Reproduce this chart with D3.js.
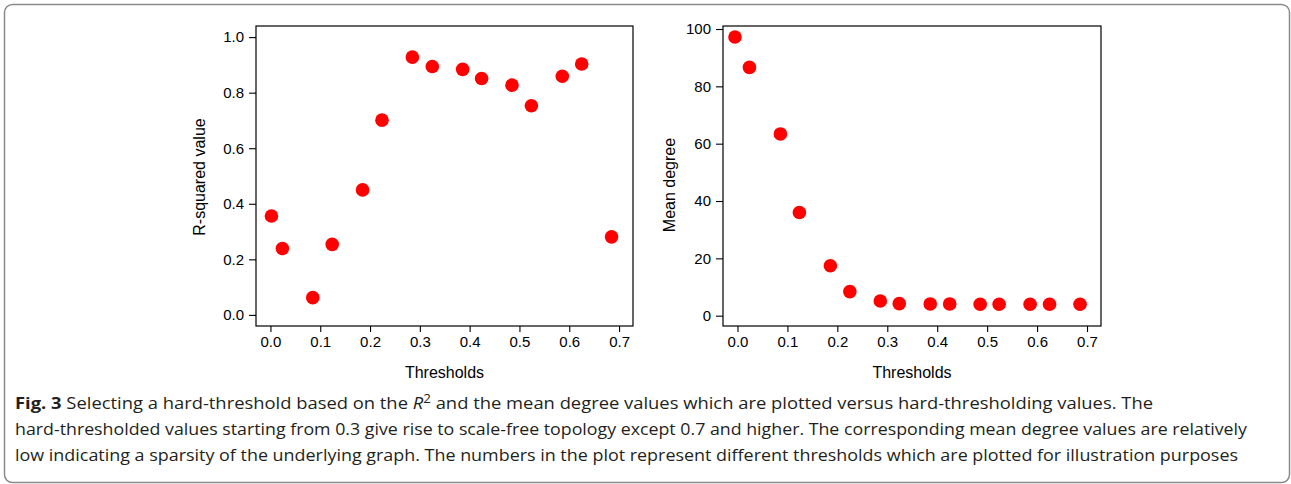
<!DOCTYPE html>
<html>
<head>
<meta charset="utf-8">
<script src="https://cdn.jsdelivr.net/npm/d3@7"></script>
<style>
  body { margin: 0; background: #fff; }
  svg { display: block; }
  .tick text { font-family: "Liberation Sans", Arial, sans-serif; font-size: 15px; fill: #000; }
  .axisTitle { font-family: "Liberation Sans", Arial, sans-serif; font-size: 16px; fill: #000; }
  .caption { font-family: "Open Sans", "Noto Sans", sans-serif; font-size: 16.5px; fill: #231f20; }
</style>
</head>
<body>
<svg id="fig"></svg>
<script>
// thresholds (x)
var leftThresholds = [0.002, 0.024, 0.085, 0.124, 0.185, 0.224, 0.285, 0.325, 0.386, 0.424, 0.485, 0.524, 0.586, 0.625, 0.685];
var rightThresholds = [-0.005, 0.024, 0.086, 0.124, 0.186, 0.225, 0.286, 0.324, 0.386, 0.425, 0.486, 0.524, 0.586, 0.625, 0.686];

// R-squared values
var rSquared = [0.356, 0.239, 0.062, 0.254, 0.450, 0.701, 0.928, 0.894, 0.884, 0.851, 0.827, 0.753, 0.859, 0.903, 0.281];

// mean degree values
var meanDegree = [97.2, 86.6, 63.4, 36.0, 17.4, 8.4, 5.1, 4.2, 4.1, 4.1, 4.0, 4.0, 4.0, 4.0, 4.0];

var xTicks = [0, 0.1, 0.2, 0.3, 0.4, 0.5, 0.6, 0.7];
var rTicks = [0, 0.2, 0.4, 0.6, 0.8, 1.0];
var degreeTicks = [0, 20, 40, 60, 80, 100];

var captionLines = [
  "hard-thresholded values starting from 0.3 give rise to scale-free topology except 0.7 and higher. The corresponding mean degree values are relatively",
  "low indicating a sparsity of the underlying graph. The numbers in the plot represent different thresholds which are plotted for illustration purposes"
];

var svgWidth = 1291;
var svgHeight = 484;

var svg = d3.select("#fig")
  .attr("width", svgWidth)
  .attr("height", svgHeight);

// outer rounded frame
svg.append("rect")
  .attr("x", 4.5).attr("y", 4.5)
  .attr("width", 1285).attr("height", 478)
  .attr("rx", 8).attr("ry", 8)
  .attr("fill", "none")
  .attr("stroke", "#8a8a8a")
  .attr("stroke-width", 1.5);

function drawPanel(opts) {
  var g = svg.append("g");

  var x = d3.scaleLinear().domain([-0.029, 0.728]).range([opts.left, opts.right]);
  var y = d3.scaleLinear().domain(opts.yDomain).range([opts.bottom, opts.top]);

  // box
  g.append("rect")
    .attr("x", opts.left).attr("y", opts.top)
    .attr("width", opts.right - opts.left)
    .attr("height", opts.bottom - opts.top)
    .attr("fill", "none")
    .attr("stroke", "#000")
    .attr("stroke-width", 1.2);

  var bottomAxis = d3.axisBottom(x).tickValues(xTicks).tickFormat(d3.format(".1f"))
    .tickSizeInner(6).tickSizeOuter(0).tickPadding(4);
  var leftAxis = d3.axisLeft(y).tickValues(opts.yTicks).tickFormat(opts.yFormat)
    .tickSizeInner(7).tickSizeOuter(0).tickPadding(5);

  var xa = g.append("g")
    .attr("transform", `translate(0, ${opts.bottom})`)
    .call(bottomAxis);
  xa.select(".domain").remove();

  var ya = g.append("g")
    .attr("transform", `translate(${opts.left}, 0)`)
    .call(leftAxis);
  ya.select(".domain").remove();

  g.selectAll(".tick line").attr("stroke", "#000").attr("stroke-width", 1.1);

  // points
  g.selectAll("circle.pt")
    .data(opts.yValues)
    .enter()
    .append("circle")
    .attr("class", "pt")
    .attr("cx", (d, i) => x(opts.xValues[i]))
    .attr("cy", d => y(d))
    .attr("r", 6.8)
    .attr("fill", "#ff0000");

  // axis titles
  g.append("text")
    .attr("class", "axisTitle")
    .attr("text-anchor", "middle")
    .attr("x", (opts.left + opts.right) / 2)
    .attr("y", 378)
    .text("Thresholds");

  g.append("text")
    .attr("class", "axisTitle")
    .attr("text-anchor", "middle")
    .attr("transform", `translate(${opts.titleX}, ${opts.titleY}) rotate(-90)`)
    .text(opts.yTitle);
}

drawPanel({
  left: 256, right: 633, top: 26, bottom: 326,
  yDomain: [-0.04, 1.04],
  yTicks: rTicks,
  yFormat: d3.format(".1f"),
  xValues: leftThresholds,
  yValues: rSquared,
  yTitle: "R-squared value",
  titleX: 205, titleY: 177
});

drawPanel({
  left: 723, right: 1101, top: 26, bottom: 326,
  yDomain: [-3.6, 101.05],
  yTicks: degreeTicks,
  yFormat: d3.format("d"),
  xValues: rightThresholds,
  yValues: meanDegree,
  yTitle: "Mean degree",
  titleX: 675, titleY: 185
});

// caption
var cap1 = svg.append("text")
  .attr("class", "caption")
  .attr("x", 15).attr("y", 408.5)
  .attr("textLength", 1138)
  .attr("lengthAdjust", "spacingAndGlyphs");
cap1.append("tspan").attr("font-weight", "bold").text("Fig. 3");
cap1.append("tspan").text(" Selecting a hard-threshold based on the ");
cap1.append("tspan").attr("font-style", "italic").text("R");
cap1.append("tspan").attr("dy", -6).attr("font-size", "12px").text("2");
cap1.append("tspan").attr("dy", 6).text(" and the mean degree values which are plotted versus hard-thresholding values. The");

var capWidths = [1232, 1223];
svg.selectAll("text.capLine")
  .data(captionLines)
  .enter()
  .append("text")
  .attr("class", "caption capLine")
  .attr("x", 15)
  .attr("y", (d, i) => 434.7 + i * 26)
  .attr("textLength", (d, i) => capWidths[i])
  .attr("lengthAdjust", "spacingAndGlyphs")
  .text(d => d);
</script>
</body>
</html>
